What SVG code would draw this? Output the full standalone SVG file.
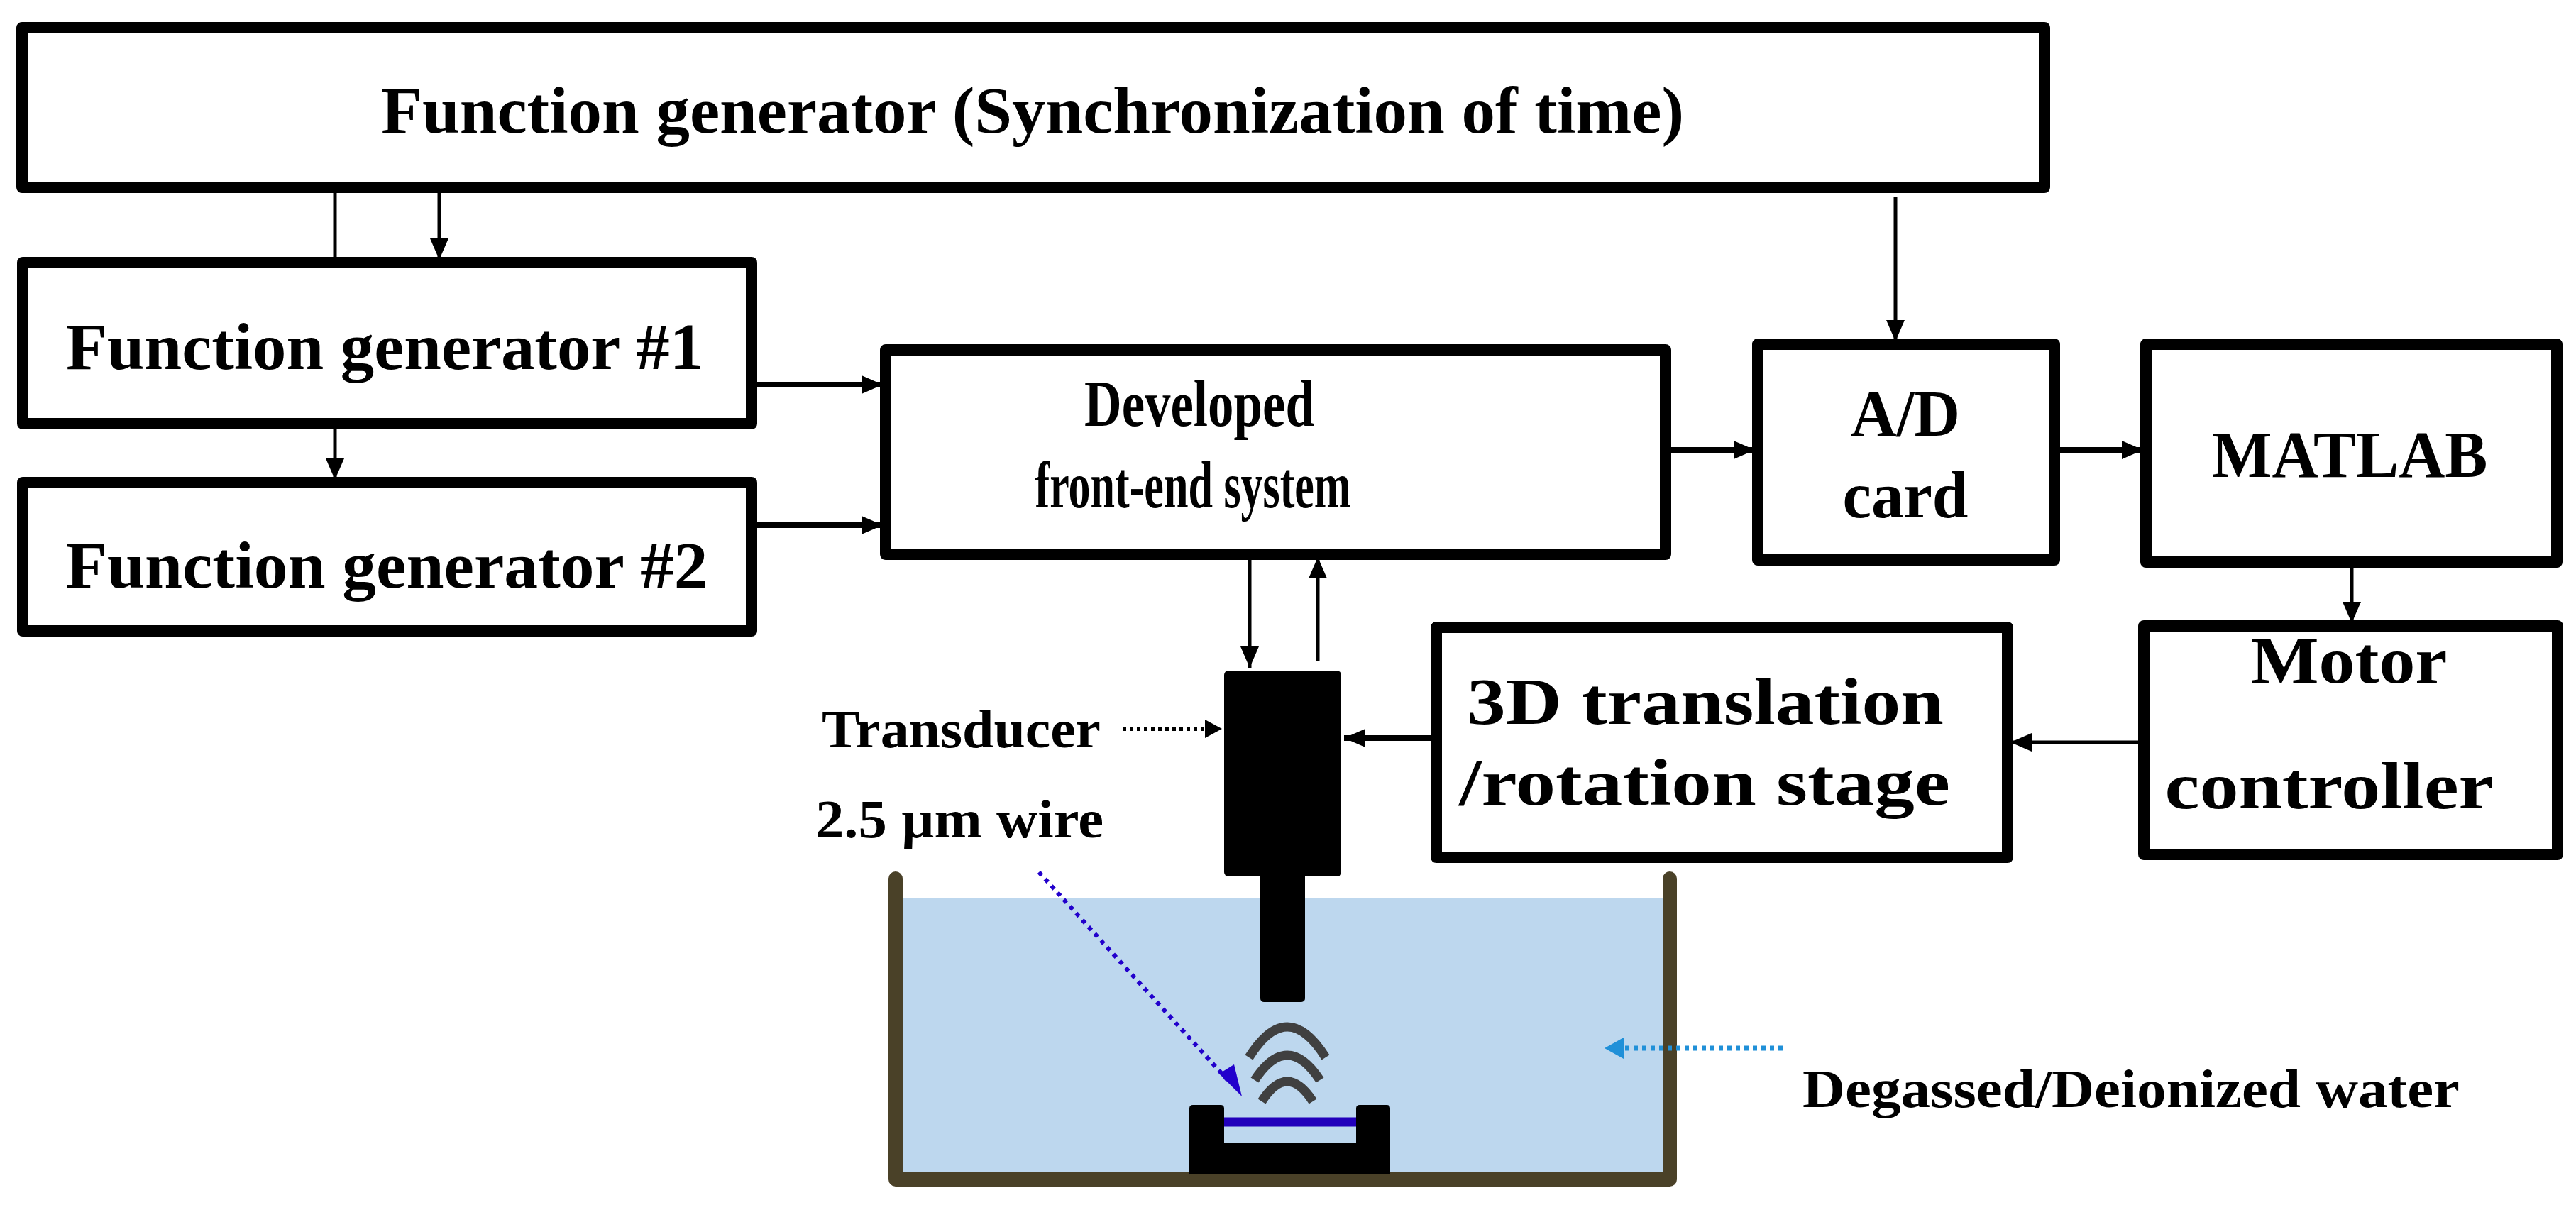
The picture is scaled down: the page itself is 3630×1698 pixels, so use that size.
<svg xmlns="http://www.w3.org/2000/svg" width="3630" height="1698" viewBox="0 0 3630 1698">
<style>
.box{fill:#fff;stroke:#000;stroke-width:16;stroke-linejoin:round}
.t{font-family:"Liberation Serif","Times New Roman",serif;font-weight:bold;font-size:94px;fill:#000;text-anchor:middle}
.s{font-family:"Liberation Serif","Times New Roman",serif;font-weight:bold;font-size:76px;fill:#000}
.c{stroke:#000;stroke-width:5;fill:none}
.c2{stroke:#000;stroke-width:8;fill:none}
</style>
<defs>
<marker id="a" markerUnits="userSpaceOnUse" markerWidth="32" markerHeight="26" refX="30" refY="13" orient="auto"><path d="M0,0 L30,13 L0,26 Z" fill="#000"/></marker>
</defs>
<rect x="0" y="0" width="3630" height="1698" fill="#fff"/>
<g id="tank">
<rect x="1272" y="1266" width="1071" height="388" fill="#bdd7ee"/>
<path d="M1262,1238 L1262,1662 L2353,1662 L2353,1238" fill="none" stroke="#4a4128" stroke-width="20" stroke-linejoin="round" stroke-linecap="round"/>
</g>
<g id="holder">
<path d="M1676,1562 Q1676,1557 1681,1557 L1720,1557 Q1725,1557 1725,1562 L1725,1610 L1911,1610 L1911,1562 Q1911,1557 1916,1557 L1954,1557 Q1959,1557 1959,1562 L1959,1654 L1676,1654 Z" fill="#000"/>
<line x1="1725" y1="1581" x2="1911" y2="1581" stroke="#2200bb" stroke-width="13"/>
</g>
<g id="waves" fill="none" stroke="#404040" stroke-width="13">
<path d="M1760,1490 Q1814,1404 1868,1490"/>
<path d="M1768,1522 Q1814,1452 1860,1522"/>
<path d="M1778,1552 Q1814,1496 1850,1552"/>
</g>
<g id="transducer">
<rect x="1725" y="945" width="165" height="290" rx="6" fill="#000"/>
<rect x="1776" y="1230" width="63" height="182" rx="5" fill="#000"/>
</g>
<g id="fg-sync"><rect class="box" x="31" y="39" width="2850" height="225"/>
<text class="t" x="1455" y="187" textLength="1836" lengthAdjust="spacingAndGlyphs">Function generator (Synchronization  of time)</text></g>
<g id="fg1"><rect class="box" x="32" y="370" width="1027" height="227"/>
<text class="t" x="542" y="520" textLength="898" lengthAdjust="spacingAndGlyphs">Function generator #1</text></g>
<g id="fg2"><rect class="box" x="32" y="680" width="1027" height="209"/>
<text class="t" x="545" y="828" textLength="905" lengthAdjust="spacingAndGlyphs">Function generator #2</text></g>
<g id="frontend"><rect class="box" x="1248" y="493" width="1099" height="288"/>
<text class="t" x="1690" y="600" textLength="324" lengthAdjust="spacingAndGlyphs">Developed</text>
<text class="t" x="1681" y="715" textLength="445" lengthAdjust="spacingAndGlyphs">front-end system</text></g>
<g id="adcard"><rect class="box" x="2477" y="485" width="418" height="304"/>
<text class="t" x="2685" y="614" textLength="154" lengthAdjust="spacingAndGlyphs">A/D</text>
<text class="t" x="2685" y="729" textLength="177" lengthAdjust="spacingAndGlyphs">card</text></g>
<g id="matlab"><rect class="box" x="3024" y="485" width="579" height="307"/>
<text class="t" x="3311" y="672" textLength="389" lengthAdjust="spacingAndGlyphs">MATLAB</text></g>
<g id="motor"><rect class="box" x="3021" y="882" width="583" height="322"/>
<text class="t" x="3310" y="962" textLength="277" lengthAdjust="spacingAndGlyphs">Motor</text>
<text class="t" x="3282" y="1139" textLength="463" lengthAdjust="spacingAndGlyphs">controller</text></g>
<g id="stage"><rect class="box" x="2024" y="884" width="805" height="324"/>
<text class="t" x="2403" y="1020" textLength="672" lengthAdjust="spacingAndGlyphs">3D translation</text>
<text class="t" x="2402" y="1134" textLength="692" lengthAdjust="spacingAndGlyphs">/rotation stage</text></g>
<g id="labels">
<text class="s" x="1158" y="1053" textLength="393" lengthAdjust="spacingAndGlyphs">Transducer</text>
<text class="s" x="1149" y="1180" textLength="406" lengthAdjust="spacingAndGlyphs">2.5 µm wire</text>
<text class="s" x="2540" y="1560" textLength="926" lengthAdjust="spacingAndGlyphs">Degassed/Deionized water</text>
</g>
<g id="connectors">
<line class="c" x1="472" y1="264" x2="472" y2="370"/>
<line class="c" x1="619" y1="264" x2="619" y2="366" marker-end="url(#a)"/>
<line class="c" x1="472" y1="597" x2="472" y2="676" marker-end="url(#a)"/>
<line class="c2" x1="1059" y1="542" x2="1244" y2="542" marker-end="url(#a)"/>
<line class="c2" x1="1059" y1="740" x2="1244" y2="740" marker-end="url(#a)"/>
<line class="c" x1="2671" y1="278" x2="2671" y2="481" marker-end="url(#a)"/>
<line class="c2" x1="2347" y1="634" x2="2473" y2="634" marker-end="url(#a)"/>
<line class="c2" x1="2895" y1="634" x2="3020" y2="634" marker-end="url(#a)"/>
<line class="c" x1="3314" y1="792" x2="3314" y2="878" marker-end="url(#a)"/>
<line class="c" x1="3021" y1="1046" x2="2833" y2="1046" marker-end="url(#a)"/>
<line class="c2" x1="2024" y1="1040" x2="1894" y2="1040" marker-end="url(#a)"/>
<line class="c" x1="1761" y1="781" x2="1761" y2="941" marker-end="url(#a)"/>
<line class="c" x1="1857" y1="931" x2="1857" y2="785" marker-end="url(#a)"/>
<line x1="1582" y1="1027" x2="1700" y2="1027" stroke="#000" stroke-width="6" stroke-dasharray="5,5"/>
<path d="M1698,1014 L1722,1027 L1698,1040 Z" fill="#000"/>
<line x1="1464" y1="1229" x2="1730" y2="1522" stroke="#2200cc" stroke-width="6" stroke-dasharray="6,7"/>
<path d="M1718,1513 L1750,1545 L1739,1500 Z" fill="#2200cc"/>
<line x1="2512" y1="1477" x2="2285" y2="1477" stroke="#2090d8" stroke-width="7" stroke-dasharray="6,6"/>
<path d="M2288,1462 L2261,1477 L2288,1492 Z" fill="#2090d8"/>
</g>
</svg>
